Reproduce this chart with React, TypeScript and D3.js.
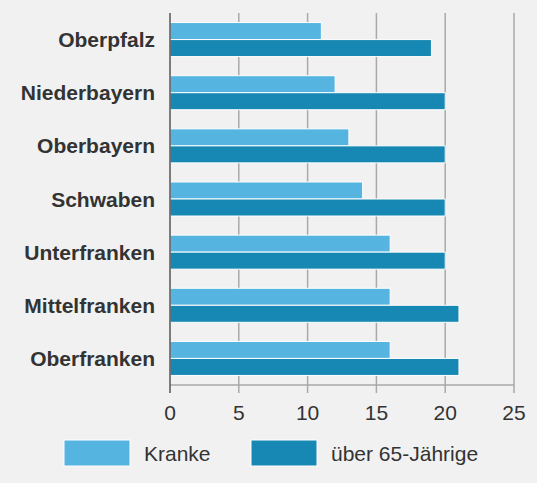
import React, { useEffect, useRef } from "react";
import * as d3 from "d3";

const regions = [
  "Oberpfalz",
  "Niederbayern",
  "Oberbayern",
  "Schwaben",
  "Unterfranken",
  "Mittelfranken",
  "Oberfranken",
];
const kranke = [11, 12, 13, 14, 16, 16, 16];
const ueber65 = [19, 20, 20, 20, 20, 21, 21];
const seriesNames = ["Kranke", "über 65-Jährige"];
const seriesColors = ["#56b4e0", "#1788b3"];
const xTicks = [0, 5, 10, 15, 20, 25];

const Chart: React.FC = () => {
  const ref = useRef<SVGSVGElement>(null);

  useEffect(() => {
    if (!ref.current) return;
    document.body.style.margin = "0";
    const width = 537;
    const height = 483;
    const margin = { top: 13, right: 23, bottom: 98, left: 170 };

    const svg = d3.select(ref.current);
    svg.selectAll("*").remove();

    svg
      .append("rect")
      .attr("width", width)
      .attr("height", height)
      .attr("fill", "#f1f1f1");

    const font = "Arial, 'Liberation Sans', Helvetica, sans-serif";

    const x = d3
      .scaleLinear()
      .domain([0, 25])
      .range([margin.left, width - margin.right]);
    const y = d3
      .scaleBand<string>()
      .domain(regions)
      .range([margin.top, height - margin.bottom])
      .paddingInner(0.36)
      .paddingOuter(0.18);

    // gridlines
    svg
      .append("g")
      .selectAll("line")
      .data(xTicks.slice(1))
      .enter()
      .append("line")
      .attr("x1", (d) => x(d))
      .attr("x2", (d) => x(d))
      .attr("y1", margin.top)
      .attr("y2", height - margin.bottom + 8)
      .attr("stroke", "#a9a9a9")
      .attr("stroke-width", 1.5);

    // bars
    const sub = y.bandwidth() / 2;
    const series = [kranke, ueber65];
    series.forEach((vals, si) => {
      svg
        .append("g")
        .selectAll("rect")
        .data(regions)
        .enter()
        .append("rect")
        .attr("x", x(0))
        .attr("y", (d) => (y(d) as number) + si * sub)
        .attr("width", (d, i) => x(vals[i]) - x(0))
        .attr("height", sub)
        .attr("fill", seriesColors[si])
        .attr("stroke", "#ffffff")
        .attr("stroke-width", 1);
    });

    // bottom axis line
    svg
      .append("line")
      .attr("x1", x(0))
      .attr("x2", x(25))
      .attr("y1", height - margin.bottom)
      .attr("y2", height - margin.bottom)
      .attr("stroke", "#a9a9a9")
      .attr("stroke-width", 1.5);

    // left axis
    svg
      .append("line")
      .attr("x1", x(0))
      .attr("x2", x(0))
      .attr("y1", margin.top)
      .attr("y2", height - margin.bottom + 8)
      .attr("stroke", "#555")
      .attr("stroke-width", 1.5);

    // tick labels
    svg
      .append("g")
      .selectAll("text")
      .data(xTicks)
      .enter()
      .append("text")
      .attr("x", (d) => x(d))
      .attr("y", height - margin.bottom + 35)
      .attr("text-anchor", "middle")
      .attr("font-family", font)
      .attr("font-size", 21)
      .attr("fill", "#333")
      .text((d) => d);

    // category labels
    svg
      .append("g")
      .selectAll("text")
      .data(regions)
      .enter()
      .append("text")
      .attr("x", x(0) - 15)
      .attr("y", (d) => (y(d) as number) + y.bandwidth() / 2)
      .attr("dy", "0.36em")
      .attr("text-anchor", "end")
      .attr("font-family", font)
      .attr("font-size", 21)
      .attr("font-weight", "bold")
      .attr("fill", "#333")
      .text((d) => d);

    // legend
    const legendX = [64, 251];
    const legend = svg
      .append("g")
      .selectAll("g")
      .data(seriesNames)
      .enter()
      .append("g")
      .attr("transform", (d, i) => `translate(${legendX[i]},440)`);
    legend
      .append("rect")
      .attr("width", 66)
      .attr("height", 26)
      .attr("fill", (d, i) => seriesColors[i])
      .attr("stroke", "#ffffff")
      .attr("stroke-width", 1);
    legend
      .append("text")
      .attr("x", 80)
      .attr("y", 13)
      .attr("dy", "0.36em")
      .attr("font-family", font)
      .attr("font-size", 21)
      .attr("fill", "#333")
      .text((d) => d);
  }, []);

  return <svg ref={ref} width={537} height={483} style={{ display: "block" }} />;
};

export default function App() {
  return <Chart />;
}
